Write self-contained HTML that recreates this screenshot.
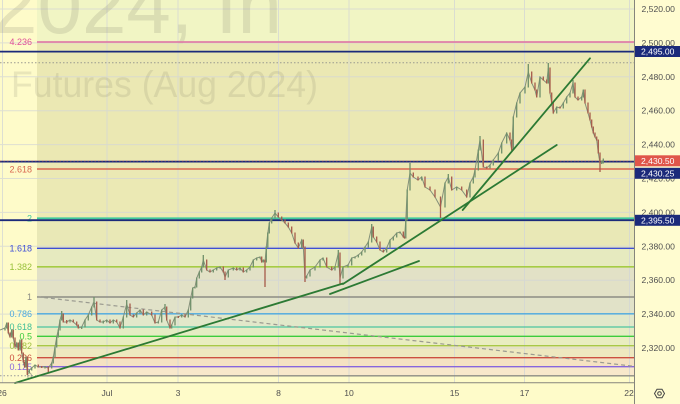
<!DOCTYPE html>
<html><head><meta charset="utf-8">
<style>
html,body{margin:0;padding:0;background:#fefbc9;overflow:hidden;}
svg{display:block;}
text{font-family:"Liberation Sans",sans-serif;}
</style></head>
<body>
<svg width="680" height="404" viewBox="0 0 680 404" xmlns="http://www.w3.org/2000/svg">
<rect x="0" y="0" width="680" height="404" fill="#fefbc9"/>
<rect x="634" y="0" width="46" height="404" fill="#fffcd0"/>
<!-- fib bands -->
<rect x="37" y="0" width="597" height="42" fill="#f1f5c4"/>
<rect x="37" y="42" width="597" height="127" fill="#ebe8b3"/>
<rect x="37" y="169" width="597" height="49" fill="#ebe9b4"/>
<rect x="37" y="218" width="597" height="30" fill="#e9e8b6"/>
<rect x="37" y="248" width="597" height="19" fill="#e6eabf"/>
<rect x="37" y="267" width="597" height="30" fill="#e2e1c6"/>
<rect x="37" y="297" width="597" height="17" fill="#e1e2c8"/>
<rect x="37" y="314" width="597" height="13" fill="#e2e8ca"/>
<rect x="37" y="327" width="597" height="9" fill="#e5ecc3"/>
<rect x="37" y="336" width="597" height="10" fill="#e9edc0"/>
<rect x="37" y="346" width="597" height="12" fill="#eee8bf"/>
<rect x="37" y="358" width="597" height="9" fill="#f5e2c2"/>
<rect x="37" y="367" width="597" height="9" fill="#f8e8cb"/>
<!-- grid -->
<g stroke="#d3d6d6" stroke-width="1" opacity="0.75">
<line x1="0" y1="9" x2="634" y2="9"/>
<line x1="0" y1="42.9" x2="634" y2="42.9"/>
<line x1="0" y1="76.8" x2="634" y2="76.8"/>
<line x1="0" y1="110.7" x2="634" y2="110.7"/>
<line x1="0" y1="144.6" x2="634" y2="144.6"/>
<line x1="0" y1="178.5" x2="634" y2="178.5"/>
<line x1="0" y1="212.4" x2="634" y2="212.4"/>
<line x1="0" y1="246.3" x2="634" y2="246.3"/>
<line x1="0" y1="280.2" x2="634" y2="280.2"/>
<line x1="0" y1="314.1" x2="634" y2="314.1"/>
<line x1="0" y1="348" x2="634" y2="348"/>
<line x1="2.5" y1="0" x2="2.5" y2="383"/>
<line x1="107" y1="0" x2="107" y2="383"/>
<line x1="178" y1="0" x2="178" y2="383"/>
<line x1="278.5" y1="0" x2="278.5" y2="383"/>
<line x1="349" y1="0" x2="349" y2="383"/>
<line x1="454.5" y1="0" x2="454.5" y2="383"/>
<line x1="524.5" y1="0" x2="524.5" y2="383"/>
<line x1="629.5" y1="0" x2="629.5" y2="383"/>
</g>
<!-- watermark -->
<text x="-7" y="33" font-size="80" fill="#707060" fill-opacity="0.17" textLength="289" lengthAdjust="spacingAndGlyphs">2024, In</text>
<text x="11" y="97" font-size="37" fill="#707060" fill-opacity="0.15" textLength="307" lengthAdjust="spacingAndGlyphs">Futures (Aug 2024)</text>
<!-- fib lines -->
<g stroke-width="1.3">
<line x1="37" y1="42" x2="634" y2="42" stroke="#e07fa6" stroke-width="1.8"/>
<line x1="37" y1="169" x2="634" y2="169" stroke="#d9664f" stroke-width="1.5"/>
<line x1="37" y1="218.3" x2="634" y2="218.3" stroke="#3fc99c" stroke-width="1.8"/>
<line x1="37" y1="248.3" x2="634" y2="248.3" stroke="#3f4fd6"/>
<line x1="37" y1="266.8" x2="634" y2="266.8" stroke="#a6cc44" stroke-width="1.6"/>
<line x1="37" y1="297" x2="634" y2="297" stroke="#8c8c84" stroke-width="1.5"/>
<line x1="37" y1="313.8" x2="634" y2="313.8" stroke="#4aa8e0"/>
<line x1="37" y1="327" x2="634" y2="327" stroke="#4cc4a0"/>
<line x1="37" y1="336.3" x2="634" y2="336.3" stroke="#3ccc3c"/>
<line x1="37" y1="345.7" x2="634" y2="345.7" stroke="#a8c848"/>
<line x1="37" y1="357.7" x2="634" y2="357.7" stroke="#cc5040"/>
<line x1="37" y1="366.7" x2="634" y2="366.7" stroke="#8866dd"/>
<line x1="37" y1="375.8" x2="634" y2="375.8" stroke="#8c8c84"/>
</g>
<line x1="0" y1="375.8" x2="37" y2="375.8" stroke="#999" stroke-width="1" stroke-dasharray="1.5,2"/>
<!-- fib labels -->
<g font-size="9" text-anchor="end">
<text x="32" y="45" fill="#e0509a">4.236</text>
<text x="32" y="172.3" fill="#d9664f">2.618</text>
<text x="32" y="221.5" fill="#3fc99c">2</text>
<text x="32" y="251.5" fill="#3f4fd6">1.618</text>
<text x="32" y="270" fill="#98c038">1.382</text>
<text x="32" y="300.2" fill="#8c8c84">1</text>
<text x="32" y="317" fill="#4aa8e0">0.786</text>
<text x="32" y="330.2" fill="#3fbf98">0.618</text>
<text x="32" y="339.5" fill="#3ccc3c">0.5</text>
<text x="32" y="348.9" fill="#a0c040">0.382</text>
<text x="32" y="360.9" fill="#cc5040">0.236</text>
<text x="32" y="369.9" fill="#8866dd">0.125</text>
<text x="32" y="379" fill="#8c8c84">0</text>
</g>
<!-- dashed descending trend -->
<line x1="37" y1="296.7" x2="634" y2="366.3" stroke="#9a9a90" stroke-width="1.2" stroke-dasharray="4,3"/>
<!-- horizontal lines -->
<line x1="0" y1="62.7" x2="634" y2="62.7" stroke="#9a9a90" stroke-width="1" stroke-dasharray="1.5,2"/>
<line x1="0" y1="51.6" x2="634" y2="51.6" stroke="#1b2a7a" stroke-width="1.8"/>
<line x1="0" y1="161.6" x2="634" y2="161.6" stroke="#1b2a7a" stroke-width="1.8"/>
<line x1="0" y1="161" x2="634" y2="161" stroke="#e0564a" stroke-width="0.8" stroke-dasharray="1.5,2" opacity="0.7"/>
<line x1="0" y1="220.2" x2="634" y2="220.2" stroke="#1b2a7a" stroke-width="1.8"/>
<!-- price connector -->
<polyline fill="none" stroke="#84907a" stroke-width="1" points="0,330 5,328 6.7,323 8.3,333 10,337 11.7,330 13.3,338 15,347 16.7,343 18.3,350 20,340 21.7,353 23.3,362 24.6,367 26,357 27.3,373 29.3,370 31.7,368 35,365 38.3,367 41.7,367 45,367 48.3,368 51.7,363 53.3,357 55,347 56.7,337 58.3,330 60,320 61.7,314 63.3,322 66.7,322 70,320 73.3,322 76.7,325 78.3,328 81.7,327 85,320 88.3,315 91.7,307 94,302 96.7,320 100,322 103.3,322 106.7,320 110,323 113.3,320 116.7,322 120,328 123.3,317 126.7,304 130,315 133.3,317 136.7,313 140,310 143.3,315 146.7,312 151.7,315 155,323 158.3,322 161.7,310 165,307 166.7,320 170,328 171.7,325 175,317 178.3,317 181.7,315 185,317 188.3,310 190.7,298 192.7,288 195,287 196.7,278 199.3,272 201.7,267 203.3,260 206.7,270 210,272 213.3,270 216.7,268 220,267 223.3,272 225,277 228.3,270 233.3,268 236.7,270 240,268 243.3,272 246.7,270 250,267 253.3,260 256.7,258 260,257 261.7,262 263.3,260 265,262 266.3,247 267.8,233 269.3,223 271.7,218 275,213 278.3,217 281.7,220 285,223 288.3,227 291.7,233 295,243 298.3,248 301.7,240 303.3,247 305,278 306.7,276 310,270 315,267 320,260 323,258 326.7,267 331.7,270 335,267 338.3,253 340,278 343,267 348,265 351.7,258 355,257 358.3,255 361.7,252 365,247 368.3,242 371.7,227 373.3,237 376.7,242 380,250 383.3,252 386.7,248 390,240 393.3,237 396.7,233 400,232 403.3,237 404.5,238 405.8,220 407.2,190 410,173 413.3,177 418,180 421.7,177 425,187 430,190 435,197 440.5,207 445,183 448.3,177 451.7,190 456.7,187 461.7,190 466.7,197 470,183 473.3,177 475,170 478.3,150 480,140 483.3,167 486.7,168 490,165 493.3,160 498.3,153 501.7,143 506.7,133 510,140 511.7,150 513.3,117 516.7,103 520,93 525,87 528.3,72 531.7,83 535,90 536.7,97 540,77 543.3,80 546.7,83 548.3,68 550,93 551.7,103 553.3,113 556.7,107 560,108 563.3,103 566.7,97 570,93 573,83 575,97 578,100 581.7,97 583.3,90 585,103 588,113 590,120 591.7,127 593.3,133 595,137 596.7,140 598.3,153 600,163 601.7,162 603.3,160"/>
<!-- up candles -->
<path fill="none" stroke="#6f8f6a" stroke-width="1.3" d="M5 327.5V330.5M6.7 322.5V328.5M11.7 329.5V337.5M16.7 342.5V347.5M20 339.5V350.5M26 356.5V367.5M29.3 369.5V373.5M31.7 367.5V370.5M35 364.5V368.5M45 366V368.5M51.7 362.5V368.5M53.3 356.5V363.5M55 346.5V357.5M56.7 336.5V347.5M58.3 329.5V337.5M60 319.5V330.5M61.7 311V320.5M70 319.5V322.5M81.7 326.5V329M85 319.5V327.5M88.3 314.5V320.5M91.7 306.5V315.5M94 297V307.5M103.3 320.5V323.5M106.7 319.5V322.5M113.3 319.5V323.5M123.3 316.5V328.5M126.7 300V317.5M136.7 312.5V317.5M140 309.5V313.5M146.7 311.5V315.5M158.3 321.5V323.5M161.7 309.5V322.5M165 304V310.5M171.7 324.5V328.5M175 316.5V325.5M181.7 314.5V317.5M188.3 309.5V317.5M190.7 297.5V310.5M192.7 287.5V298.5M195 286.5V288.5M196.7 277.5V287.5M199.3 271.5V278.5M201.7 266.5V272.5M203.3 255V267.5M213.3 269.5V272.5M216.7 267.5V270.5M220 266.5V268.5M228.3 269.5V277.5M233.3 267.5V270.5M240 267.5V270.5M246.7 269.5V272.5M250 266.5V270.5M253.3 259.5V267.5M256.7 257.5V260.5M260 256.5V258.5M263.3 259.5V262.5M266.3 246.5V262.5M267.8 232.5V247.5M269.3 222.5V233.5M271.7 217.5V223.5M275 210V218.5M301.7 239.5V248.5M306.7 275.5V278.5M310 269.5V276.5M315 266.5V270.5M320 259.5V267.5M323 257.5V260.5M335 266.5V270.5M338.3 250V267.5M343 266.5V278.5M348 264.5V267.5M351.7 257.5V265.5M355 256.5V258.5M358.3 254.5V257.5M361.7 251.5V255.5M365 246.5V252.5M368.3 241.5V247.5M371.7 224V242.5M386.7 247.5V252.5M390 239.5V248.5M393.3 236.5V240.5M396.7 232.5V237.5M400 231.5V233.5M405.8 219.5V238.5M407.2 189.5V220.5M410 163V190.5M421.7 176.5V180.5M445 182.5V207.5M448.3 174V183.5M456.7 186.5V190.5M470 182.5V197.5M473.3 176.5V183.5M475 169.5V177.5M478.3 149.5V170.5M480 136V150.5M490 164.5V168.5M493.3 159.5V165.5M498.3 152.5V160.5M501.7 142.5V153.5M506.7 132.5V143.5M513.3 116.5V150.5M516.7 102.5V117.5M520 92.5V103.5M525 86.5V93.5M528.3 64V87.5M540 76.5V97.5M548.3 63V83.5M556.7 106.5V113.5M563.3 102.5V108.5M566.7 96.5V103.5M570 92.5V97.5M573 80V93.5M581.7 96.5V100.5M583.3 89.5V97.5M601.7 160.5V164M603.3 158.5V163.5"/>
<!-- down candles -->
<path fill="none" stroke="#a65a4a" stroke-width="1.3" d="M8.3 322.5V333.5M10 332.5V337.5M13.3 329.5V338.5M15 337.5V347.5M18.3 342.5V350.5M21.7 339.5V353.5M23.3 352.5V362.5M24.6 361.5V367.5M27.3 356.5V375M38.3 364.5V367.5M41.7 366V368M48.3 366.5V372M63.3 313.5V322.5M66.7 320V323.5M73.3 319.5V322.5M76.7 321.5V325.5M78.3 324.5V328.5M96.7 301.5V320.5M100 319.5V322.5M110 319.5V323.5M116.7 319.5V322.5M120 321.5V328.5M130 303.5V315.5M133.3 314.5V317.5M143.3 309.5V315.5M151.7 311.5V315.5M155 314.5V323.5M166.7 306.5V320.5M170 319.5V328.5M178.3 316V318M185 314.5V317.5M206.7 259.5V270.5M210 269.5V272.5M223.3 266.5V272.5M225 271.5V280M236.7 267.5V270.5M243.3 267.5V272.5M261.7 256.5V262.5M265 259.5V287M278.3 212.5V217.5M281.7 216.5V220.5M285 219.5V223.5M288.3 222.5V227.5M291.7 226.5V233.5M295 232.5V243.5M298.3 242.5V248.5M303.3 239.5V247.5M305 246.5V282M326.7 257.5V267.5M331.7 266.5V270.5M340 252.5V285M373.3 226.5V237.5M376.7 236.5V242.5M380 241.5V250.5M383.3 249.5V252.5M403.3 231.5V237.5M404.5 236.5V238.5M413.3 172.5V177.5M418 176.5V180.5M425 176.5V187.5M430 186.5V190.5M435 189.5V197.5M440.5 196.5V218M451.7 176.5V190.5M461.7 186.5V190.5M466.7 189.5V197.5M483.3 139.5V167.5M486.7 166.5V168.5M510 132.5V140.5M511.7 139.5V150.5M531.7 71.5V83.5M535 82.5V90.5M536.7 89.5V97.5M543.3 76.5V80.5M546.7 79.5V83.5M550 67.5V93.5M551.7 92.5V103.5M553.3 102.5V113.5M560 106.5V108.5M575 82.5V97.5M578 96.5V100.5M585 89.5V103.5M588 102.5V113.5M590 112.5V120.5M591.7 119.5V127.5M593.3 126.5V133.5M595 132.5V137.5M596.7 136.5V140.5M598.3 139.5V153.5M600 152.5V172"/>
<!-- green trendlines -->
<g stroke="#2c7a34" stroke-width="1.8" stroke-linecap="round">
<line x1="15" y1="383" x2="343" y2="283.5"/>
<line x1="330" y1="294" x2="419" y2="261"/>
<line x1="343" y1="284" x2="556.7" y2="145"/>
<line x1="462.7" y1="210" x2="590" y2="58.3"/>
</g>
<!-- axes -->
<line x1="0" y1="382.7" x2="634" y2="382.7" stroke="#85857c" stroke-width="1"/>
<line x1="634.5" y1="0" x2="634.5" y2="404" stroke="#85857c" stroke-width="1"/>
<g font-size="8.6" fill="#505050">
<text x="641.5" y="12">2,520.00</text>
<text x="641.5" y="45.9">2,500.00</text>
<text x="641.5" y="79.8">2,480.00</text>
<text x="641.5" y="113.7">2,460.00</text>
<text x="641.5" y="147.6">2,440.00</text>
<text x="641.5" y="181.5">2,420.00</text>
<text x="641.5" y="215.4">2,400.00</text>
<text x="641.5" y="249.3">2,380.00</text>
<text x="641.5" y="283.2">2,360.00</text>
<text x="641.5" y="317.1">2,340.00</text>
<text x="641.5" y="351">2,320.00</text>
</g>
<!-- price tags -->
<rect x="635" y="46" width="45" height="11" fill="#1b2a7a"/>
<text x="641" y="54.6" font-size="8.6" fill="#ffffff">2,495.00</text>
<rect x="635" y="155.3" width="45" height="11" fill="#e0564a"/>
<text x="641" y="163.9" font-size="8.6" fill="#ffffff">2,430.50</text>
<rect x="635" y="167.8" width="45" height="11" fill="#1b2a7a"/>
<text x="641" y="176.4" font-size="8.6" fill="#ffffff">2,430.25</text>
<rect x="635" y="214.8" width="45" height="11" fill="#1b2a7a"/>
<text x="641" y="223.4" font-size="8.6" fill="#ffffff">2,395.50</text>
<!-- time labels -->
<g font-size="8.6" fill="#505050" text-anchor="middle">
<text x="2" y="396">26</text>
<text x="107" y="396">Jul</text>
<text x="178" y="396">3</text>
<text x="278.5" y="396">8</text>
<text x="349" y="396">10</text>
<text x="454.5" y="396">15</text>
<text x="524.5" y="396">17</text>
<text x="629" y="396">22</text>
</g>
<!-- gear -->
<polygon points="664.5,393.5 662,397.8 657,397.8 654.5,393.5 657,389.2 662,389.2" fill="none" stroke="#444" stroke-width="1"/>
<circle cx="659.5" cy="393.5" r="1.8" fill="none" stroke="#444" stroke-width="1"/>
</svg>
</body></html>
